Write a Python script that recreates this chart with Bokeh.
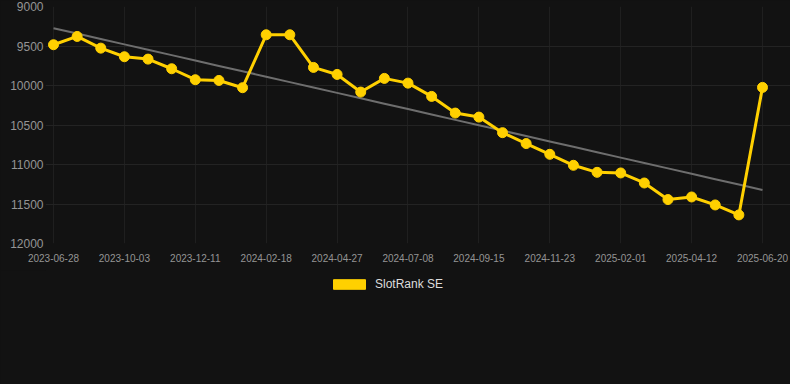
import numpy as np
from bokeh.plotting import figure
from bokeh.layouts import column
from bokeh.models import Range1d, FixedTicker, Legend, LegendItem, ColumnDataSource
from bokeh.embed import file_html
from bokeh.resources import INLINE

dates = ["2023-06-28", "2023-07-30", "2023-08-31", "2023-10-03", "2023-10-26",
         "2023-11-18", "2023-12-11", "2024-01-03", "2024-01-26", "2024-02-18",
         "2024-03-12", "2024-04-04", "2024-04-27", "2024-05-21", "2024-06-14",
         "2024-07-08", "2024-07-31", "2024-08-23", "2024-09-15", "2024-10-08",
         "2024-10-31", "2024-11-23", "2024-12-16", "2025-01-09", "2025-02-01",
         "2025-02-24", "2025-03-19", "2025-04-12", "2025-05-05", "2025-05-28",
         "2025-06-20"]
ranks = [9484, 9379, 9527, 9636, 9666, 9788, 9927, 9936, 10028, 9358,
         9358, 9771, 9860, 10083, 9910, 9970, 10138, 10349, 10400, 10597,
         10735, 10871, 11010, 11099, 11107, 11234, 11444, 11411, 11512, 11638,
         10024]
y_ticks = [9000, 9500, 10000, 10500, 11000, 11500, 12000]
series_name = "SlotRank SE"

BG = "#121212"
YELLOW = "#FFD000"
idx = list(range(len(dates)))
slope, intercept = np.polyfit(idx, ranks, 1)
trend = [slope * i + intercept for i in idx]

p = figure(frame_width=745, frame_height=237, output_backend="svg", toolbar_location=None,
           x_range=Range1d(-0.3385, 31.185), y_range=Range1d(12000, 9000),
           min_border_left=45, min_border_right=0, min_border_top=6,
           min_border_bottom=27)
p.background_fill_color = BG
p.border_fill_color = BG
p.outline_line_color = None
p.styles = {"background-color": BG}

p.line(idx, trend, line_color="#6e6e6e", line_width=2)
src = ColumnDataSource(dict(x=idx, y=ranks))
p.line("x", "y", source=src, line_color=YELLOW, line_width=3)
p.scatter("x", "y", source=src, size=10, fill_color=YELLOW, line_color=YELLOW)

p.xaxis.ticker = FixedTicker(ticks=idx[::3])
p.xaxis.major_label_overrides = {i: dates[i] for i in idx[::3]}
p.yaxis.ticker = FixedTicker(ticks=y_ticks)
for ax in (p.xaxis, p.yaxis):
    ax.axis_line_color = None
    ax.major_tick_line_color = None
    ax.minor_tick_line_color = None
    ax.major_tick_out = 0
    ax.major_label_text_font = "Liberation Sans"
    ax.major_label_text_color = "#959595"
p.xaxis.major_label_text_font_size = "10px"
p.yaxis.major_label_text_font_size = "12px"
p.xaxis.major_label_standoff = 10
p.yaxis.major_label_standoff = 2
p.xgrid.ticker = FixedTicker(ticks=idx[::3])
p.ygrid.ticker = FixedTicker(ticks=y_ticks)
p.xgrid.grid_line_color = "#1f1f1f"
p.ygrid.grid_line_color = "#232323"

# legend strip below the chart
p2 = figure(width=790, height=114, output_backend="svg", toolbar_location=None,
            x_range=Range1d(0, 1), y_range=Range1d(0, 1),
            x_axis_type=None, y_axis_type=None,
            min_border_left=0, min_border_right=0, min_border_top=0, min_border_bottom=0)
p2.background_fill_color = BG
p2.border_fill_color = BG
p2.outline_line_color = None
p2.styles = {"background-color": BG}
p2.xgrid.visible = False
p2.ygrid.visible = False
dummy = p2.quad(left=[5], right=[6], top=[5], bottom=[4],
                fill_color=YELLOW, line_color=YELLOW)
legend = Legend(items=[LegendItem(label=series_name, renderers=[dummy])],
                orientation="horizontal", location=(284, 93),
                glyph_width=40, glyph_height=12, label_standoff=6,
                padding=4, margin=0, background_fill_alpha=0, border_line_color=None,
                label_text_font="Liberation Sans", label_text_font_size="12px",
                label_text_color="#dddddd")
p2.add_layout(legend, "center")

layout = column(p, p2, spacing=0)
layout.styles = {"background-color": BG}
open("out.html", "w").write(file_html(layout, INLINE))
